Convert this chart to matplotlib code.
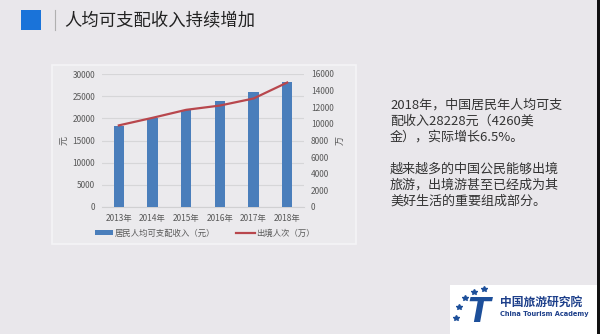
import matplotlib
matplotlib.use("Agg")
import matplotlib.pyplot as plt
from matplotlib.patches import Rectangle
from matplotlib.lines import Line2D

plt.rcParams['font.family'] = ['Noto Sans CJK SC', 'DejaVu Sans']

years = ["2013年", "2014年", "2015年", "2016年", "2017年", "2018年"]
income = [18311, 20167, 21966, 23821, 25974, 28228]
trips = [9819, 10728, 11689, 12203, 13051, 14972]
left_ticks = [0, 5000, 10000, 15000, 20000, 25000, 30000]
right_ticks = [0, 2000, 4000, 6000, 8000, 10000, 12000, 14000, 16000]
bar_label = "居民人均可支配收入（元）"
line_label = "出境人次（万）"
title = "人均可支配收入持续增加"
para1 = "2018年，中国居民年人均可支\n配收入28228元（4260美\n金），实际增长6.5%。"
para2 = "越来越多的中国公民能够出境\n旅游，出境游甚至已经成为其\n美好生活的重要组成部分。"

W, H = 600, 334
fig = plt.figure(figsize=(6, 3.34), dpi=100)
fig.patch.set_facecolor("#e9e7eb")

def fx(px):
    return px / W

def fy(py):
    return 1 - py / H

# chart panel
fig.patches.append(Rectangle((fx(52), fy(244)), fx(356) - fx(52), fy(65) - fy(244),
                             transform=fig.transFigure, facecolor="#ebeaed",
                             edgecolor="#f4f4f6", linewidth=1.2, zorder=-5))
# logo panel
fig.patches.append(Rectangle((fx(450), 0), fx(597) - fx(450), fy(285),
                             transform=fig.transFigure, facecolor="#ffffff",
                             edgecolor="none", zorder=-5))
# right dark strip
fig.patches.append(Rectangle((fx(597), 0), fx(600) - fx(597), 1,
                             transform=fig.transFigure, facecolor="#111111",
                             edgecolor="none", zorder=-5))
# title decorations
fig.patches.append(Rectangle((fx(21), fy(30)), fx(20), fy(10) - fy(30),
                             transform=fig.transFigure, facecolor="#1a73d9",
                             edgecolor="none", zorder=-4))
fig.lines.append(Line2D([fx(55), fx(55)], [fy(10), fy(30)], transform=fig.transFigure,
                        color="#b0b0b0", linewidth=0.8, zorder=-4))
fig.text(fx(64), fy(20), title, fontsize=12.5, color="#222222", va="center", ha="left")

ax = fig.add_axes([fx(102), fy(207), fx(304) - fx(102), fy(74) - fy(207)])
ax.set_zorder(2)
ax.set_facecolor("none")
x = list(range(len(years)))
ax.bar(x, income, width=0.3, color="#4a7ebb", zorder=3)
ax.set_ylim(0, 30000)
ax.set_yticks(left_ticks)
ax.set_xlim(-0.5, len(years) - 0.5)
ax.set_xticks(x)
ax.set_xticklabels(years)
ax.grid(axis="y", color="#d6d6d8", linewidth=0.8, zorder=0)
for s in ["top", "right", "left"]:
    ax.spines[s].set_visible(False)
ax.spines["bottom"].set_color("#d0d0d2")
ax.tick_params(axis="both", length=0, labelsize=6, labelcolor="#595959", pad=5)
ax.set_ylabel("元", fontsize=6.5, color="#595959", labelpad=2)

ax2 = ax.twinx()
ax2.set_zorder(3)
ax2.set_facecolor("none")
ax2.plot(x, trips, color="#b8474d", linewidth=1.6, zorder=4)
ax2.set_ylim(0, 16000)
ax2.set_yticks(right_ticks)
for s in ["top", "right", "left", "bottom"]:
    ax2.spines[s].set_visible(False)
ax2.tick_params(axis="both", length=0, labelsize=6, labelcolor="#595959", pad=5)
ax2.set_ylabel("万", fontsize=6.5, color="#595959", labelpad=2)

handles = [Rectangle((0, 0), 1, 1, facecolor="#4a7ebb"),
           Line2D([0], [0], color="#b8474d", linewidth=1.6)]
fig.legend(handles, [bar_label, line_label], loc="center",
           bbox_to_anchor=(fx(205), fy(233)), ncol=2, frameon=False,
           fontsize=6, labelcolor="#595959", handlelength=2.2, handleheight=0.5,
           columnspacing=2.5, handletextpad=0.2)

fig.text(fx(390), fy(99), para1, fontsize=9.4, color="#333333", va="top", ha="left",
         linespacing=1.28)
fig.text(fx(390), fy(163), para2, fontsize=9.4, color="#333333", va="top", ha="left",
         linespacing=1.28)

# logo
fig.text(fx(479), fy(312), "T", fontsize=24, fontweight="bold", style="italic",
         color="#1d4f9a", ha="center", va="center", family=["DejaVu Sans"])
star_x = [456, 459, 465, 474, 484]
star_y = [318, 307, 298, 292, 289]
fig.lines.append(Line2D([fx(v) for v in star_x], [fy(v) for v in star_y],
                        transform=fig.transFigure, linestyle="none", marker="*",
                        markersize=4, color="#1d4f9a"))
fig.text(fx(500), fy(302), "中国旅游研究院", fontsize=8.5, fontweight="bold",
         color="#1d3f8a", ha="left", va="center")
fig.text(fx(500), fy(314), "China Tourism Academy", fontsize=4.8, fontweight="bold",
         color="#1d3f8a", ha="left", va="center", family=["DejaVu Sans"])

fig.savefig("out.png", dpi=100, facecolor=fig.get_facecolor())
